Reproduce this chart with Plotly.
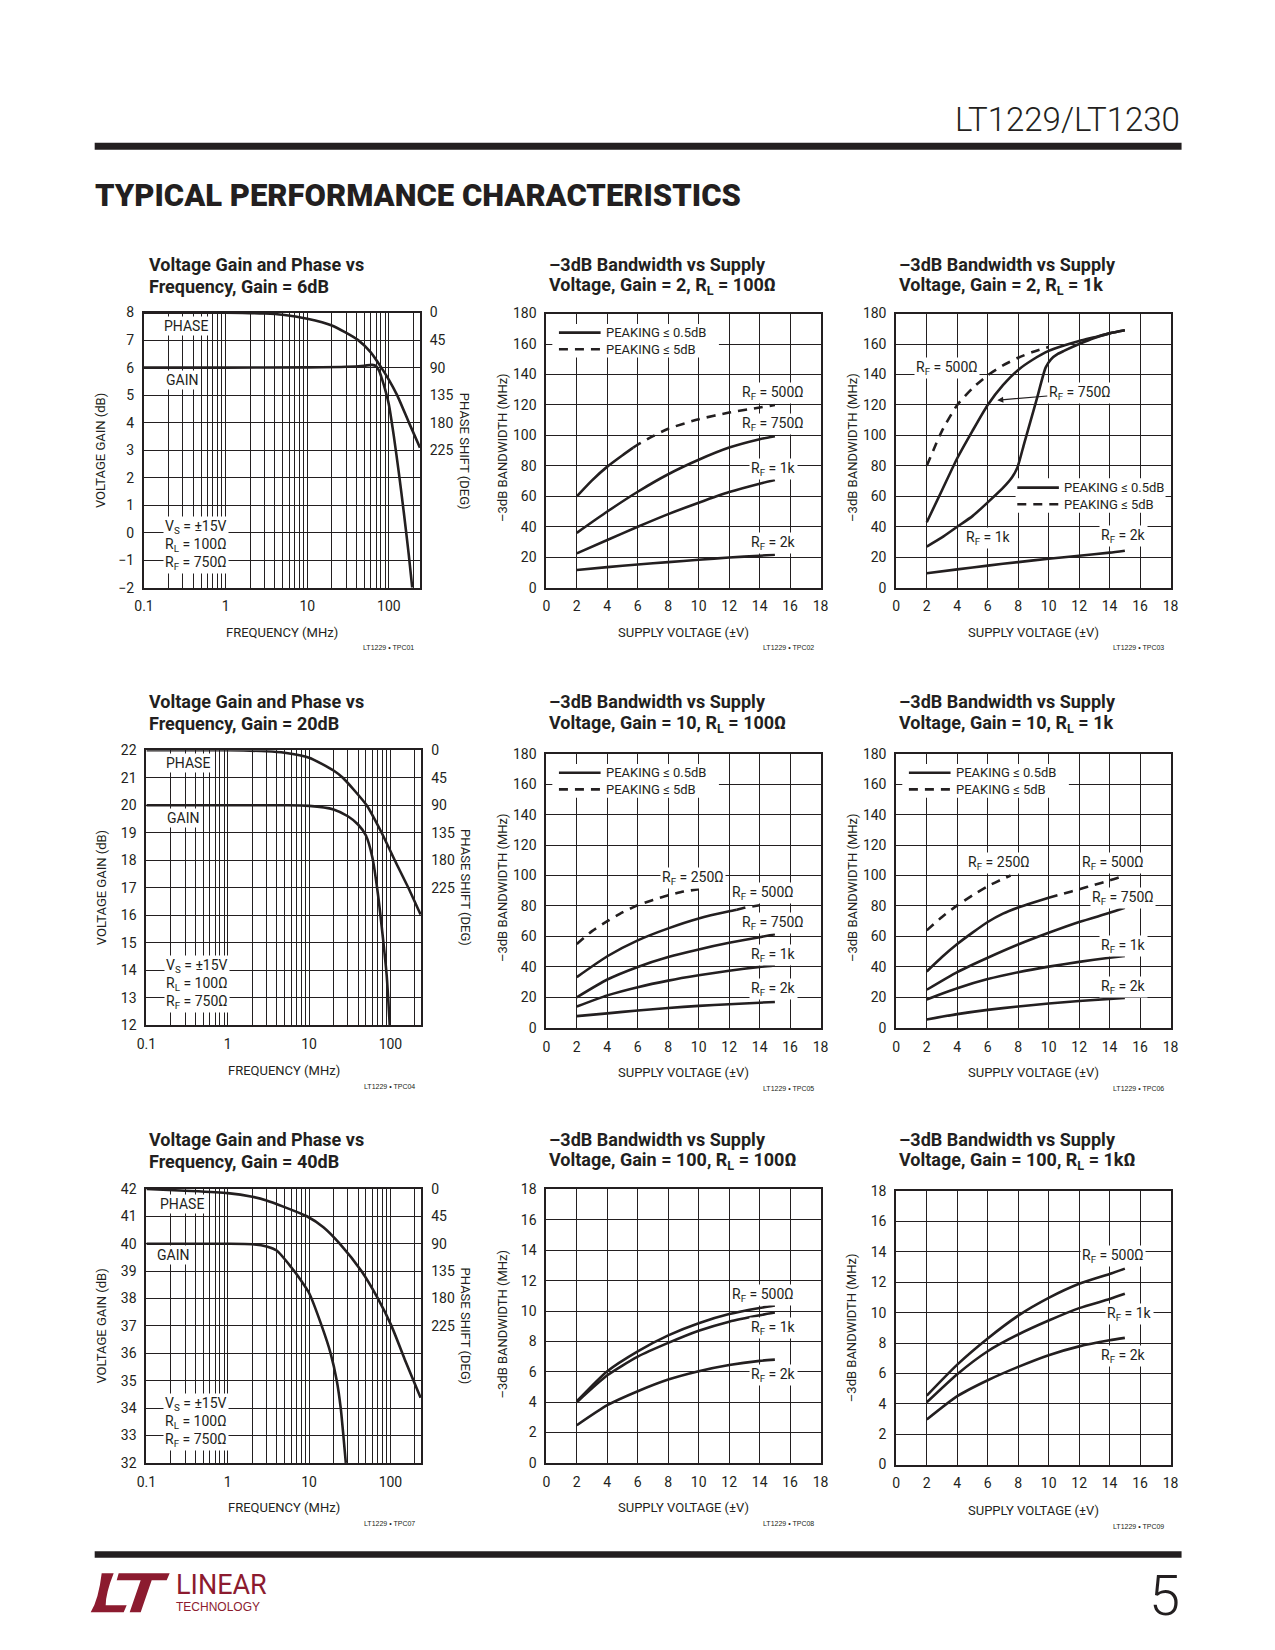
import math
import plotly.graph_objects as go

W, H = 1275, 1650          # figure size
# measured mapping figure-pixel -> photographed page pixel: page = O + S * fig
SX, OXP = 0.986, 17.3
SY, OYP = 0.990, 15.2
FONT = "Roboto, Liberation Sans, Arial, sans-serif"
WIDE = "Liberation Sans, Arial, sans-serif"
INK = "#231f20"
LOGO_RED = "#8c1b2f"

# ======================= DATA =======================
# Voltage gain (dB) and phase shift (deg) vs frequency (MHz)
gain6_f = [0.1, 1, 10, 30, 50, 62, 70, 76, 82, 90, 100, 115, 132, 152, 175, 193]
gain6_db = [6.0, 6.0, 6.01, 6.03, 6.07, 6.1, 6.05, 5.88, 5.6, 5.2, 4.65, 3.5, 2.2, 0.75, -0.8, -2.0]
phase6_f = [0.1, 1, 3, 5, 10, 20, 42, 60, 79, 100, 126, 176, 240]
phase6_deg = [0, 0, 1.5, 3.5, 10, 21, 45, 65, 88, 110, 135, 180, 221]

gain20_f = [0.1, 1, 5, 10, 20, 30, 40, 50, 60, 70, 80, 90, 98]
gain20_db = [20, 20, 20, 19.98, 19.85, 19.6, 19.3, 18.9, 18.1, 16.8, 15.3, 13.8, 12]
phase20_f = [0.1, 1, 3, 5, 10, 20, 26, 51, 78, 113, 166, 235]
phase20_deg = [0, 0, 1.5, 4, 12, 33, 45, 90, 135, 180, 225, 269]

gain40_f = [0.1, 1, 2, 3, 4, 6, 8, 10, 14.3, 18.4, 21.9, 24.5, 26.4, 28.3]
gain40_db = [40, 40, 39.98, 39.9, 39.75, 39.15, 38.65, 38.2, 37, 36, 35, 34, 33, 32]
phase40_f = [0.1, 0.3, 1, 2, 3, 5, 9.4, 15, 23.8, 44, 70, 103, 150, 235]
phase40_deg = [0, 3, 7, 13, 19, 30, 45, 63, 90, 135, 180, 225, 280, 343]

# -3dB bandwidth (MHz) vs supply voltage (±V)
vs = [2, 4, 6, 8, 10, 12, 14, 15]

# Gain = 2, RL = 100
g2rl100_500_solid_v = [2, 3, 4, 5, 5.7]
g2rl100_500_solid = [60, 70.5, 79.5, 87, 92]
g2rl100_500_dash_v = [5.7, 6, 7, 8, 10, 12, 14, 15]
g2rl100_500_dash = [92, 94, 99.5, 104.4, 110.6, 115, 118.3, 120]
g2rl100_750 = [36, 50, 63, 74.5, 84, 92, 97.5, 99.5]
g2rl100_1k = [22.5, 31.3, 40, 48.3, 55.8, 62.8, 68.3, 70.7]
g2rl100_2k = [11.6, 13.5, 15.2, 16.8, 18.3, 19.8, 21, 21.6]

# Gain = 2, RL = 1k
g2rl1k_500_dash_v = [2, 3, 4, 5, 6, 7, 8, 9, 10]
g2rl1k_500_dash = [80, 103, 120, 131, 139.5, 146, 151, 155, 158]
g2rl1k_750_v = [2, 3, 4, 5, 6, 7, 8, 9, 10, 11, 12, 13, 14, 15]
g2rl1k_750 = [43, 64, 85, 103, 120, 133, 143, 150, 155.5, 159, 162, 164.5, 167, 169]
g2rl1k_1k_v = [2, 3, 4, 5, 6, 7, 7.6, 7.95, 8.4, 8.8, 9.25, 9.8, 10.15, 10.6, 11, 12, 13, 14, 15]
g2rl1k_1k = [27, 33, 40, 47, 56, 65.5, 72.5, 79, 95, 109, 125, 144.5, 150, 153.5, 155.5, 160, 164, 167, 169]
g2rl1k_2k = [9.5, 12, 14.5, 16.8, 19, 21, 23, 24.3]

# Gain = 10, RL = 100
g10rl100_250_dash_v = [2, 3, 4, 5, 6, 7, 8, 9, 10]
g10rl100_250_dash = [55, 63.5, 70, 75.8, 80.5, 84, 87, 89.5, 91]
g10rl100_500_solid_v = [2, 4, 6, 8, 10, 12, 12.5]
g10rl100_500_solid = [33.3, 47, 57.4, 65.3, 71.8, 76.5, 77.5]
g10rl100_500_dash_v = [12.5, 13, 14]
g10rl100_500_dash = [77.5, 78.8, 80.5]
g10rl100_750 = [20, 31.7, 40, 46.5, 51.5, 55.8, 59.5, 61.5]
g10rl100_1k = [14, 21.3, 26.7, 31, 34.5, 37.5, 40, 41]
g10rl100_2k = [7.7, 9.5, 11.4, 13, 14.4, 15.5, 16.5, 17]

# Gain = 10, RL = 1k
g10rl1k_250_dash_v = [2, 3, 4, 5, 6, 7, 7.5]
g10rl1k_250_dash = [64, 72.8, 80.4, 87, 93, 97.8, 100]
g10rl1k_500_solid_v = [2, 3, 4, 5, 6, 7, 8, 9, 10]
g10rl1k_500_solid = [37, 46.5, 55, 62.5, 69.5, 75, 79, 82.3, 85.4]
g10rl1k_500_dash_v = [10, 11, 12, 13, 14, 15]
g10rl1k_500_dash = [85.4, 88.2, 91, 93.9, 96.8, 100]
g10rl1k_750 = [25, 36.6, 46, 54.7, 62.4, 69.5, 75.5, 78.8]
g10rl1k_1k = [18.6, 26, 32, 36.5, 40.2, 43.3, 46, 47.2]
g10rl1k_2k = [5.5, 9, 11.8, 14, 16, 17.6, 19, 19.6]

# Gain = 100, RL = 100
g100rl100_500 = [4.06, 6.04, 7.35, 8.4, 9.2, 9.8, 10.2, 10.36]
g100rl100_1k = [4.0, 5.77, 7.0, 7.9, 8.7, 9.3, 9.72, 9.9]
g100rl100_2k = [2.48, 3.8, 4.72, 5.49, 6.04, 6.45, 6.72, 6.8]

# Gain = 100, RL = 1k
g100rl1k_500 = [4.54, 6.58, 8.3, 9.8, 10.97, 11.9, 12.55, 12.9]
g100rl1k_1k = [4.1, 5.95, 7.46, 8.56, 9.48, 10.3, 10.9, 11.24]
g100rl1k_2k = [2.96, 4.5, 5.55, 6.43, 7.2, 7.78, 8.18, 8.34]

# Axis ticks
freq_tickvals = [0.1, 1, 10, 100]
freq_ticktext = ["0.1", "1", "10", "100"]
freq_minor = [0.2, 0.3, 0.4, 0.5, 0.6, 0.7, 0.8, 0.9, 2, 3, 4, 5, 6, 7, 8, 9,
              20, 30, 40, 50, 60, 70, 80, 90, 200]
freq_max = 240
phase_tickvals = [0, 45, 90, 135, 180, 225]
phase_range = [450, 0]

# ======================= FIGURE =======================
fig = go.Figure()
shapes = []
annotations = []
layout = {}

TICK = 14
LBL = 14
LEG = 13
AXT = 13
TTL = 18


def fxp(px):
    return (px - OXP) / SX


def fyp(py):
    return (py - OYP) / SY


def P(px, py):
    return fxp(px) / W, 1 - fyp(py) / H


def text(px, py, s, size=LBL, xanchor="center", yanchor="middle", angle=0,
         bg=None, family=FONT, color=INK, align="center", weight=None):
    x, y = P(px, py)
    f = dict(family=family, size=size, color=color)
    if weight:
        f["weight"] = weight
    a = dict(x=x, y=y, xref="paper", yref="paper", text=s, showarrow=False,
             xanchor=xanchor, yanchor=yanchor, textangle=angle, align=align, font=f)
    if bg:
        a.update(bgcolor=bg, borderpad=1)
    annotations.append(a)


def base_axis():
    return dict(showline=True, mirror=True, linecolor=INK, linewidth=2,
                showgrid=True, gridcolor=INK, gridwidth=1, zeroline=False,
                ticks="outside", ticklen=5, tickcolor="rgba(0,0,0,0)",
                tickfont=dict(family=FONT, size=TICK, color=INK), fixedrange=True)


def aname(p, n):
    return f"{p}axis" if n == 1 else f"{p}axis{n}"


def aref(p, n):
    return p if n == 1 else f"{p}{n}"


def domains(box):
    L, T, R, B = box
    return [fxp(L) / W, fxp(R) / W], [1 - fyp(B) / H, 1 - fyp(T) / H]


def line(xv, yv, n, yref=None, dash=None, smoothing=0.6):
    fig.add_trace(go.Scatter(
        x=xv, y=yv, mode="lines", xaxis=aref("x", n), yaxis=yref or aref("y", n),
        line=dict(color=INK, width=2.6, shape="spline", smoothing=smoothing,
                  dash=dash or "solid"),
        hoverinfo="skip", showlegend=False))


# ---------- Gain / phase charts ----------
gp_charts = [
    dict(n=1, pn=10, box=(143.3, 311.7, 419.3, 586.7), yr=[-2, 8],
         gf=gain6_f, g=gain6_db, pf=phase6_f, p=phase6_deg,
         title=("Voltage Gain and Phase vs", "Frequency, Gain = 6dB"), ty=(263.3, 286),
         phase_lbl=(185, 325), gain_lbl=(181, 379.3), vsbox=(162.7, 543.7),
         vt=(100.5, 450), pt=(463.5, 450), xt=(281.5, 631.7), tpc=("LT1229 • TPC01", 388, 647)),
    dict(n=4, pn=11, box=(145.7, 749.3, 420.7, 1024), yr=[12, 22],
         gf=gain20_f, g=gain20_db, pf=phase20_f, p=phase20_deg,
         title=("Voltage Gain and Phase vs", "Frequency, Gain = 20dB"), ty=(700, 722.5),
         phase_lbl=(187, 762), gain_lbl=(182, 817), vsbox=(163, 983),
         vt=(100.7, 886.7), pt=(465, 886.7), xt=(283, 1069.3), tpc=("LT1229 • TPC04", 389, 1085)),
    dict(n=7, pn=12, box=(145.7, 1187.7, 420.7, 1461.7), yr=[32, 42],
         gf=gain40_f, g=gain40_db, pf=phase40_f, p=phase40_deg,
         title=("Voltage Gain and Phase vs", "Frequency, Gain = 40dB"), ty=(1138.3, 1160),
         phase_lbl=(181, 1203.3), gain_lbl=(172.8, 1254.3), vsbox=(162, 1421),
         vt=(100.7, 1325), pt=(465, 1325), xt=(283, 1506.7), tpc=("LT1229 • TPC07", 389, 1522.7)),
]

for c in gp_charts:
    n, pn = c["n"], c["pn"]
    xd, yd = domains(c["box"])
    xa = base_axis()
    xa.update(domain=xd, anchor=aref("y", n), type="log",
              range=[-1, math.log10(freq_max)], tickmode="array",
              tickvals=freq_tickvals, ticktext=freq_ticktext,
              minor=dict(tickmode="array", tickvals=freq_minor, showgrid=True,
                         gridcolor=INK, gridwidth=1, ticks=""))
    ya = base_axis()
    ya.update(domain=yd, anchor=aref("x", n), range=c["yr"], tickmode="linear",
              tick0=c["yr"][0], dtick=1)
    pa = dict(overlaying=aref("y", n), anchor=aref("x", n), side="right",
              range=phase_range, tickmode="array", tickvals=phase_tickvals,
              showgrid=False, showline=False, zeroline=False, ticks="outside",
              ticklen=6, tickcolor="rgba(0,0,0,0)", fixedrange=True,
              tickfont=dict(family=FONT, size=TICK, color=INK))
    layout[aname("x", n)] = xa
    layout[aname("y", n)] = ya
    layout[aname("y", pn)] = pa
    line(c["gf"], c["g"], n)
    line(c["pf"], c["p"], n, yref=aref("y", pn))

    text(146, c["ty"][0], f"<b>{c['title'][0]}</b>", size=TTL, xanchor="left")
    text(146, c["ty"][1], f"<b>{c['title'][1]}</b>", size=TTL, xanchor="left")
    text(*c["phase_lbl"], "PHASE", bg="white")
    text(*c["gain_lbl"], "GAIN", bg="white")
    text(*c["vsbox"], "V<sub>S</sub> = ±15V<br>R<sub>L</sub> = 100Ω<br>R<sub>F</sub> = 750Ω",
         xanchor="left", align="left", bg="white")
    text(*c["vt"], "VOLTAGE GAIN (dB)", size=AXT, angle=-90)
    text(*c["pt"], "PHASE SHIFT (DEG)", size=AXT, angle=90)
    text(*c["xt"], "FREQUENCY (MHz)", size=AXT)
    text(c["tpc"][1], c["tpc"][2], c["tpc"][0], size=7, family=WIDE)

# ---------- Bandwidth charts ----------
DASH = "9px,7px"
bw_charts = [
    dict(n=2, box=(545.7, 312.7, 820, 586.7), ymax=180, col=546, ty=(263.3, 285.5),
         title=("–3dB Bandwidth vs Supply", "Voltage, Gain = 2, R<sub>L</sub> = 100Ω"),
         curves=[(g2rl100_500_solid_v, g2rl100_500_solid, None),
                 (g2rl100_500_dash_v, g2rl100_500_dash, DASH),
                 (vs, g2rl100_750, None), (vs, g2rl100_1k, None), (vs, g2rl100_2k, None)],
         labels=[("500Ω", 772, 391.7), ("750Ω", 772, 422.7), ("1k", 773, 468), ("2k", 773, 542)],
         legend=dict(sx=(558.3, 600), ys=331.7, yd=348.3, tx=603, wb=(551.7, 323, 718.3, 356.7)),
         yt=(501.7, 446.7), xt=(682.5, 631.7), tpc=("LT1229 • TPC02", 788, 647)),
    dict(n=3, box=(895.7, 312.7, 1170, 586.7), ymax=180, col=896, ty=(263.3, 285.5),
         title=("–3dB Bandwidth vs Supply", "Voltage, Gain = 2, R<sub>L</sub> = 1k"),
         curves=[(g2rl1k_500_dash_v, g2rl1k_500_dash, DASH),
                 (g2rl1k_750_v, g2rl1k_750, None), (g2rl1k_1k_v, g2rl1k_1k, None),
                 (vs, g2rl1k_2k, None)],
         labels=[("500Ω", 946, 366.7), ("1k", 988, 536.7), ("2k", 1123, 535)],
         legend=dict(sx=(1016.7, 1058.3), ys=486.7, yd=503.3, tx=1061.7, wb=(1015, 477.3, 1165, 511.7)),
         yt=(851.7, 446.7), xt=(1032.5, 631.7), tpc=("LT1229 • TPC03", 1138, 647)),
    dict(n=5, box=(545.7, 752.7, 820, 1026.7), ymax=180, col=546, ty=(700, 722.5),
         title=("–3dB Bandwidth vs Supply", "Voltage, Gain = 10, R<sub>L</sub> = 100Ω"),
         curves=[(g10rl100_250_dash_v, g10rl100_250_dash, DASH),
                 (g10rl100_500_solid_v, g10rl100_500_solid, None),
                 (g10rl100_500_dash_v, g10rl100_500_dash, DASH),
                 (vs, g10rl100_750, None), (vs, g10rl100_1k, None), (vs, g10rl100_2k, None)],
         labels=[("250Ω", 692, 876.7), ("500Ω", 762, 891.7), ("750Ω", 772, 921.7),
                 ("1k", 773, 954), ("2k", 773, 988.3)],
         legend=dict(sx=(558.3, 600), ys=771.7, yd=788.3, tx=603, wb=(551.7, 763, 718.3, 796.7)),
         yt=(501.7, 886.7), xt=(682.5, 1071.7), tpc=("LT1229 • TPC05", 788, 1087.3)),
    dict(n=6, box=(895.7, 752.7, 1170, 1026.7), ymax=180, col=896, ty=(700, 722.5),
         title=("–3dB Bandwidth vs Supply", "Voltage, Gain = 10, R<sub>L</sub> = 1k"),
         curves=[(g10rl1k_250_dash_v, g10rl1k_250_dash, DASH),
                 (g10rl1k_500_solid_v, g10rl1k_500_solid, None),
                 (g10rl1k_500_dash_v, g10rl1k_500_dash, DASH),
                 (vs, g10rl1k_750, None), (vs, g10rl1k_1k, None), (vs, g10rl1k_2k, None)],
         labels=[("250Ω", 998, 861.7), ("500Ω", 1112, 861.7), ("750Ω", 1122, 897),
                 ("1k", 1123, 945), ("2k", 1123, 986)],
         legend=dict(sx=(908.3, 950), ys=771.7, yd=788.3, tx=953, wb=(901.7, 763, 1068.3, 796.7)),
         yt=(851.7, 886.7), xt=(1032.5, 1071.7), tpc=("LT1229 • TPC06", 1138, 1087.3)),
    dict(n=8, box=(545.7, 1188.3, 820, 1461.7), ymax=18, col=546, ty=(1138.3, 1160),
         title=("–3dB Bandwidth vs Supply", "Voltage, Gain = 100, R<sub>L</sub> = 100Ω"),
         curves=[(vs, g100rl100_500, None), (vs, g100rl100_1k, None), (vs, g100rl100_2k, None)],
         labels=[("500Ω", 762, 1294), ("1k", 773, 1326.7), ("2k", 773, 1373.3)],
         legend=None,
         yt=(501.7, 1323), xt=(682.5, 1506.7), tpc=("LT1229 • TPC08", 788, 1522.3)),
    dict(n=9, box=(895.7, 1190, 1170, 1463.3), ymax=18, col=896, ty=(1138.3, 1160),
         title=("–3dB Bandwidth vs Supply", "Voltage, Gain = 100, R<sub>L</sub> = 1kΩ"),
         curves=[(vs, g100rl1k_500, None), (vs, g100rl1k_1k, None), (vs, g100rl1k_2k, None)],
         labels=[("500Ω", 1112, 1255), ("1k", 1129, 1312.7), ("2k", 1123, 1355)],
         legend=None,
         yt=(851.7, 1326.7), xt=(1032.5, 1509.3), tpc=("LT1229 • TPC09", 1138, 1525.7)),
]

for c in bw_charts:
    n = c["n"]
    L, T, R, B = c["box"]
    xd, yd = domains(c["box"])
    xa = base_axis()
    xa.update(domain=xd, anchor=aref("y", n), range=[0, 18], tickmode="linear", tick0=0, dtick=2)
    ya = base_axis()
    ya.update(domain=yd, anchor=aref("x", n), range=[0, c["ymax"]], tickmode="linear",
              tick0=0, dtick=c["ymax"] / 9)
    layout[aname("x", n)] = xa
    layout[aname("y", n)] = ya
    for xv, yv, dash in c["curves"]:
        line(xv, yv, n, dash=dash)

    text(c["col"], c["ty"][0], f"<b>{c['title'][0]}</b>", size=TTL, xanchor="left")
    text(c["col"], c["ty"][1], f"<b>{c['title'][1]}</b>", size=TTL, xanchor="left")
    for lab, lx, ly in c["labels"]:
        text(lx, ly, f"R<sub>F</sub> = {lab}", bg="white")
    text(*c["yt"], "–3dB BANDWIDTH (MHz)", size=AXT, angle=-90)
    text(*c["xt"], "SUPPLY VOLTAGE (±V)", size=AXT)
    text(c["tpc"][1], c["tpc"][2], c["tpc"][0], size=7, family=WIDE)

    lg = c["legend"]
    if lg:
        ymax = c["ymax"]
        dx = lambda px: (px - L) / (R - L) * 18
        dy = lambda py: (B - py) / (B - T) * ymax
        xr, yr = aref("x", n), aref("y", n)
        wb = lg["wb"]
        shapes.append(dict(type="rect", xref=xr, yref=yr, x0=dx(wb[0]), x1=dx(wb[2]),
                           y0=dy(wb[3]), y1=dy(wb[1]), fillcolor="white",
                           line=dict(width=0), layer="between"))
        for yy, dash in ((lg["ys"], "solid"), (lg["yd"], DASH)):
            shapes.append(dict(type="line", xref=xr, yref=yr, x0=dx(lg["sx"][0]), x1=dx(lg["sx"][1]),
                               y0=dy(yy), y1=dy(yy), line=dict(color=INK, width=2.6, dash=dash),
                               layer="above"))
        text(lg["tx"], lg["ys"], "PEAKING ≤ 0.5dB", size=LEG, xanchor="left")
        text(lg["tx"], lg["yd"], "PEAKING ≤ 5dB", size=LEG, xanchor="left")

# arrowed label in chart 3
hx, hy = P(996.7, 399.3)
annotations.append(dict(x=hx, y=hy, xref="paper", yref="paper", text="R<sub>F</sub> = 750Ω",
                        showarrow=True, ax=82.5, ay=-7, arrowhead=2, arrowsize=1,
                        arrowwidth=1.2, arrowcolor=INK, bgcolor="white", borderpad=1,
                        font=dict(family=FONT, size=LBL, color=INK)))


# ---------- Page decoration ----------
def rect(x0, y0, x1, y1, color=INK):
    a, b = P(x0, y0)
    c, d = P(x1, y1)
    shapes.append(dict(type="rect", xref="paper", yref="paper", x0=a, x1=c, y0=d, y1=b,
                       fillcolor=color, line=dict(width=0), layer="above"))


rect(94, 142, 1181, 149)
rect(94, 1550, 1181, 1556.5)
text(1181, 119, "LT1229/LT1230", size=33, xanchor="right", weight=300)
text(92, 194.3, "TYPICAL PERFORMANCE CHARACTERISTICS", size=31, xanchor="left", weight=900)
text(1181, 1595, "5", size=56, xanchor="right", weight=300)


def path(points):
    segs = []
    for cmd, pts in points:
        coords = " ".join("%.5f,%.5f" % P(*p) for p in pts)
        segs.append(f"{cmd} {coords}")
    return " ".join(segs) + " Z"


shapes.append(dict(type="path", xref="paper", yref="paper", fillcolor=LOGO_RED, line=dict(width=0),
                   layer="above",
                   path=path([("M", [(101, 1572)]), ("L", [(113, 1572)]),
                              ("Q", [(105, 1592), (105, 1604)]), ("L", [(126, 1604)]),
                              ("L", [(123, 1611)]), ("L", [(90, 1611)]),
                              ("Q", [(98, 1598), (101, 1572)])])))
shapes.append(dict(type="path", xref="paper", yref="paper", fillcolor=LOGO_RED, line=dict(width=0),
                   layer="above",
                   path=path([("M", [(118, 1572)]), ("L", [(169, 1572)]), ("L", [(166, 1579)]),
                              ("L", [(151, 1579)]), ("L", [(140, 1611)]), ("L", [(129, 1611)]),
                              ("L", [(140, 1579)]), ("L", [(116, 1579)])])))
text(173, 1584, "LINEAR", size=27, xanchor="left", color=LOGO_RED)
text(173, 1605.5, "TECHNOLOGY", size=12, xanchor="left", color=LOGO_RED, family=WIDE)

fig.update_layout(width=W, height=H, autosize=False, margin=dict(l=0, r=0, t=0, b=0),
                  paper_bgcolor="white", plot_bgcolor="white", showlegend=False,
                  shapes=shapes, annotations=annotations, **layout)
fig.write_html("out.html")
